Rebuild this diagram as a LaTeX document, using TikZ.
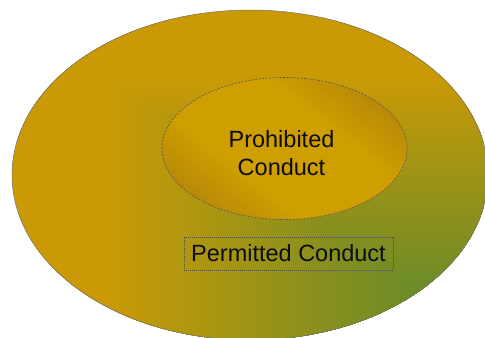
\documentclass[tikz,border=0pt]{standalone}
\usepackage{fontspec}
\setmainfont{Liberation Sans}
\definecolor{gld}{RGB}{201,154,6}
\definecolor{grn}{RGB}{84,136,48}
\definecolor{ilt}{RGB}{207,158,0}
\definecolor{idk}{RGB}{184,137,9}
\pgfdeclareverticalshading{innershade}{100bp}{color(0bp)=(idk); color(25bp)=(idk); color(38bp)=(ilt); color(62bp)=(ilt); color(75bp)=(idk); color(100bp)=(idk)}
\begin{document}
\begin{tikzpicture}[x=1bp,y=-1bp,
  lbl/.style={font=\fontsize{23.5bp}{27.3bp}\selectfont, text=black!95, inner sep=0pt, align=center},
  outerline/.style={draw=black!55, line width=0.5bp},
  innerline/.style={draw=black!65, line width=0.6bp, dash pattern=on 2bp off 1.5bp},
  boxline/.style={draw=black!70, line width=0.5bp, dash pattern=on 1bp off 1bp}]
\useasboundingbox (0,0) rectangle (485,337);
% outer ellipse with corner gradient
\begin{scope}
  \clip (250,175) ellipse [x radius=238bp, y radius=165bp];
  \foreach \i in {0,...,80}{
    \pgfmathsetmacro\t{1-\i/80}
    \pgfmathsetmacro\p{max(0,min(100,100*(1-\t/0.8)))}
    \fill[grn!\p!gld] ({488-\t*476},{340-\t*330}) rectangle (495,345);
  }
\end{scope}
\draw[outerline] (250,175) ellipse [x radius=238bp, y radius=165bp];
% inner ellipse
\shade[shading=innershade, shading angle=-38] (284.5,148.5) ellipse [x radius=122.5bp, y radius=71bp];
\draw[innerline] (284.5,148.5) ellipse [x radius=122.5bp, y radius=71bp];
% labels
\node[lbl] (prohibited) at (281.5,153) {Prohibited\\Conduct};
\node[lbl, boxline, minimum width=209bp, minimum height=33bp] (permitted) at (288.5,253.5) {Permitted Conduct};
\end{tikzpicture}
\end{document}
